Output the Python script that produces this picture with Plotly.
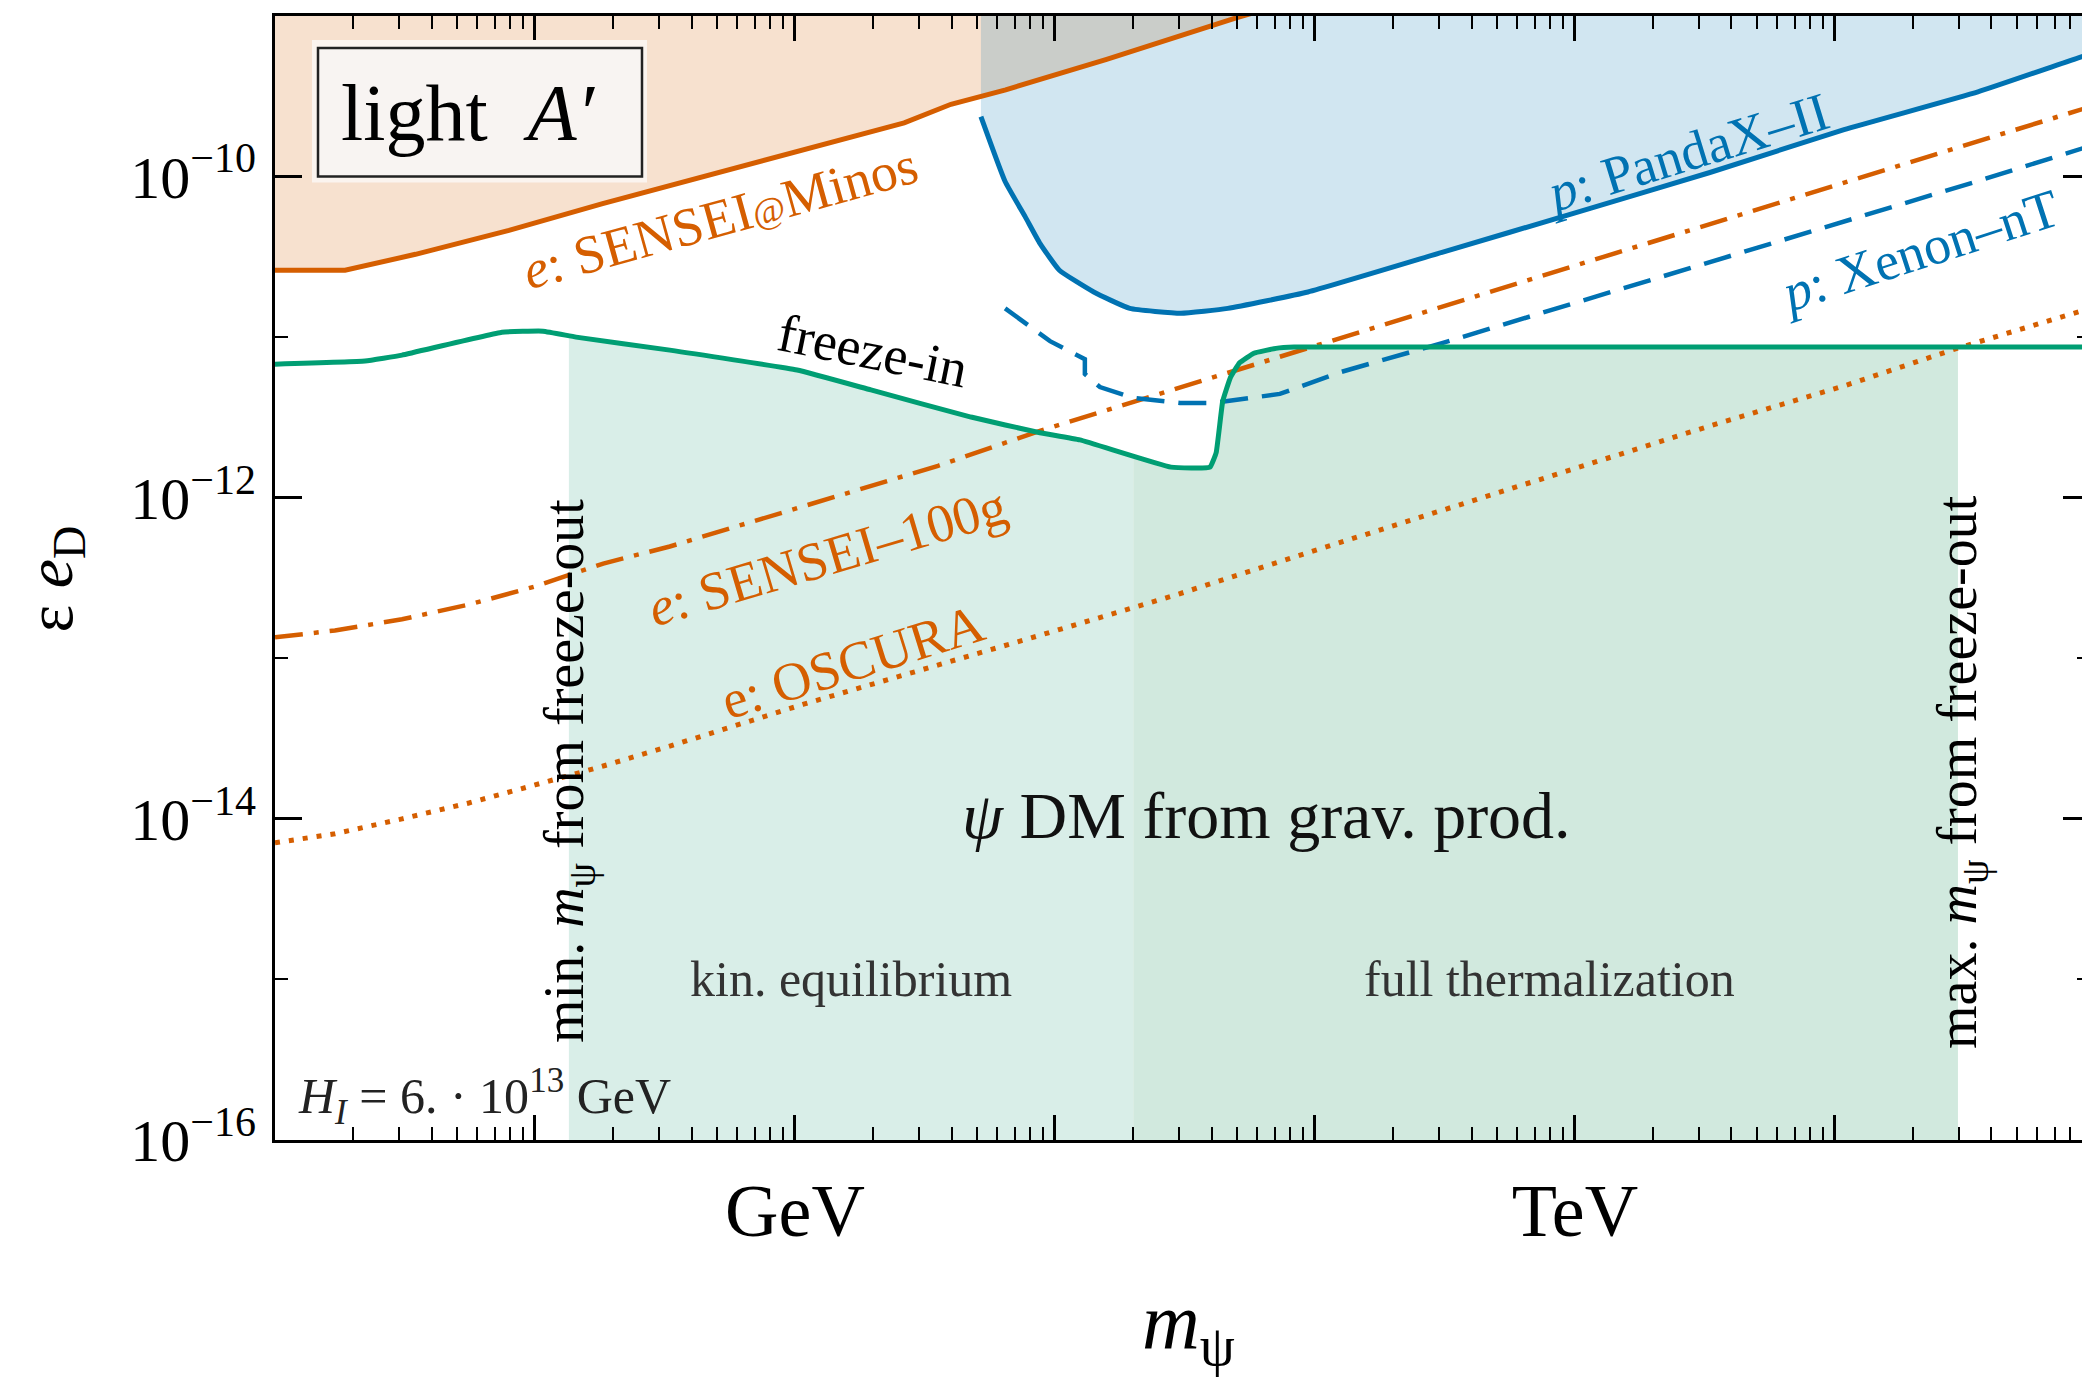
import numpy as np
import plotly.graph_objects as go

# ---------------- data (mass in GeV, coupling eps*e_D) ----------------
minos_m = [0.01, 0.0186, 0.0347, 0.0794, 0.182, 0.447, 1.08, 2.63, 3.98, 6.46, 15.8, 50.1, 100]
minos_eps = [2.61e-11, 2.61e-11, 3.28e-11, 4.62e-11, 6.79e-11, 1.0e-10, 1.47e-10, 2.16e-10,
             2.82e-10, 3.47e-10, 5.37e-10, 9.77e-10, 1.35e-9]

pandax_m = [5.19, 6.43, 7.67, 8.75, 10.4, 14.1, 19.4, 30.5, 46.2, 94.0, 308, 1009, 3304,
            10840, 35480, 95720, 125900]
pandax_eps = [2.36e-10, 9.31e-11, 5.65e-11, 3.84e-11, 2.61e-11, 1.91e-11, 1.51e-11, 1.41e-11,
              1.51e-11, 1.91e-11, 3.37e-11, 5.97e-11, 1.06e-10, 1.96e-10, 3.37e-10, 5.81e-10, 6.6e-10]

xenon_m = [6.43, 9.57, 13.03, 13.03, 14.89, 19.95, 30.27, 40.55, 73.28, 126, 308, 1009, 3304,
           10840, 35480, 95720]
xenon_eps = [1.51e-11, 9.44e-12, 7.29e-12, 5.89e-12, 4.89e-12, 4.18e-12, 3.89e-12, 3.89e-12,
             4.43e-12, 6.07e-12, 9.18e-12, 1.64e-11, 2.94e-11, 5.25e-11, 9.38e-11, 1.55e-10]

sensei100_m = [0.01, 0.0170, 0.0308, 0.0557, 0.1, 0.183, 0.330, 1.08, 3.55, 8.75, 28.7, 94.0,
               308, 1009, 3304, 10840, 35480, 95720]
sensei100_eps = [1.35e-13, 1.49e-13, 1.75e-13, 2.16e-13, 2.80e-13, 3.89e-13, 4.97e-13, 8.91e-13,
                 1.58e-12, 2.61e-12, 4.72e-12, 8.55e-12, 1.55e-11, 2.80e-11, 5.07e-11, 9.16e-11,
                 1.66e-10, 2.72e-10]

oscura_m = [0.01, 0.0170, 0.0308, 0.0557, 0.1, 0.183, 0.330, 1.08, 8.75, 28.7, 94.0, 308, 1009,
            3304, 10840, 29720, 95720]
oscura_eps = [7.10e-15, 8.07e-15, 1.0e-14, 1.256e-14, 1.626e-14, 2.133e-14, 2.838e-14, 5.176e-14,
              1.39e-13, 2.46e-13, 4.55e-13, 8.30e-13, 1.51e-12, 2.80e-12, 4.97e-12, 8.55e-12, 1.51e-11]

freezein_m = [0.01, 0.0222, 0.0308, 0.0746, 0.1074, 0.1439, 0.330, 1.019, 1.959, 4.753, 8.75,
              12.47, 27.93, 39.45, 41.69, 44.16, 47.32, 51.29, 58.21, 70.79, 83.18, 100000]
freezein_eps = [6.79e-12, 7.10e-12, 7.73e-12, 1.074e-11, 1.089e-11, 1.0e-11, 8.30e-12, 6.24e-12,
                4.69e-12, 3.18e-12, 2.54e-12, 2.29e-12, 1.55e-12, 1.55e-12, 1.91e-12, 3.98e-12,
                5.62e-12, 6.92e-12, 7.94e-12, 8.51e-12, 8.67e-12, 8.67e-12]

m_min_freezeout = 0.135     # GeV
m_kin_therm = 20.0          # GeV
m_max_freezeout = 29720.0   # GeV

x_tick_vals = [1e-2, 1e-1, 1, 10, 100, 1e3, 1e4, 1e5]
x_tick_text = ["", "", "GeV", "", "", "TeV", "", ""]
y_tick_vals = [1e-16, 1e-14, 1e-12, 1e-10]
y_tick_text = ["10<sup>−16</sup>", "10<sup>−14</sup>", "10<sup>−12</sup>", "10<sup>−10</sup>"]
y_minor_vals = [1e-15, 1e-13, 1e-11, 1e-9]

# ---------------- styling ----------------
ORANGE = "#D55E00"
BLUE = "#0072B2"
GREEN = "#009E73"
FONT = "Liberation Serif"
TOP = 2e-9
BOTTOM = 1e-17

x_minor = [k * 10.0 ** e for e in range(-2, 5) for k in range(2, 10)]

fig = go.Figure()

# orange excluded region (above SENSEI@Minos)
fig.add_trace(go.Scatter(x=minos_m + [minos_m[-1], minos_m[0]],
                         y=minos_eps + [TOP, TOP], fill="toself", mode="none",
                         fillcolor="rgba(213,94,0,0.19)", hoverinfo="skip"))
# blue excluded region (above PandaX-II)
fig.add_trace(go.Scatter(x=[pandax_m[0]] + pandax_m + [pandax_m[-1]],
                         y=[TOP] + pandax_eps + [TOP], fill="toself", mode="none",
                         fillcolor="rgba(0,114,178,0.18)", hoverinfo="skip"))


def green_region(a, b):
    lx = np.log10(freezein_m)
    ly = np.log10(freezein_eps)
    la, lb = np.log10(a), np.log10(b)
    inner = [(x, y) for x, y in zip(lx, ly) if la < x < lb]
    xs = [la] + [p[0] for p in inner] + [lb]
    ys = [np.interp(la, lx, ly)] + [p[1] for p in inner] + [np.interp(lb, lx, ly)]
    xs = list(10 ** np.array(xs)) + [b, a]
    ys = list(10 ** np.array(ys)) + [BOTTOM, BOTTOM]
    return xs, ys


gx1, gy1 = green_region(m_min_freezeout, m_kin_therm)
gx2, gy2 = green_region(m_kin_therm, m_max_freezeout)
fig.add_trace(go.Scatter(x=gx1, y=gy1, fill="toself", mode="none",
                         fillcolor="rgb(217,238,232)", hoverinfo="skip"))
fig.add_trace(go.Scatter(x=gx2, y=gy2, fill="toself", mode="none",
                         fillcolor="rgb(209,233,222)", hoverinfo="skip"))

# lines
fig.add_trace(go.Scatter(x=oscura_m, y=oscura_eps, mode="lines",
                         line=dict(color=ORANGE, width=5, dash="5px,9px")))
fig.add_trace(go.Scatter(x=sensei100_m, y=sensei100_eps, mode="lines",
                         line=dict(color=ORANGE, width=4.5, dash="28px,11px,5px,11px")))
fig.add_trace(go.Scatter(x=xenon_m, y=xenon_eps, mode="lines",
                         line=dict(color=BLUE, width=4.5, dash="28px,14px")))
fig.add_trace(go.Scatter(x=pandax_m, y=pandax_eps, mode="lines",
                         line=dict(color=BLUE, width=5, shape="spline", smoothing=0.4)))
fig.add_trace(go.Scatter(x=minos_m, y=minos_eps, mode="lines",
                         line=dict(color=ORANGE, width=5)))
fig.add_trace(go.Scatter(x=freezein_m, y=freezein_eps, mode="lines",
                         line=dict(color=GREEN, width=5, shape="spline", smoothing=0.3)))

# ---------------- axes ----------------
fig.update_xaxes(type="log", range=[-2, 4.981], showline=True, linecolor="black", linewidth=3,
                 mirror="ticks", ticks="inside", ticklen=25, tickwidth=2.5, tickcolor="black",
                 tickmode="array", tickvals=x_tick_vals, ticktext=x_tick_text,
                 tickfont=dict(size=74, family=FONT, color="black"),
                 minor=dict(tickmode="array", tickvals=x_minor, ticks="inside", ticklen=13,
                            tickwidth=2.2, tickcolor="black", showgrid=False),
                 showgrid=False, zeroline=False, ticklabelstandoff=4)
fig.update_yaxes(type="log", range=[-16, -9], showline=True, linecolor="black", linewidth=3,
                 mirror="ticks", ticks="inside", ticklen=27, tickwidth=2.5, tickcolor="black",
                 tickmode="array", tickvals=y_tick_vals, ticktext=y_tick_text,
                 tickfont=dict(size=60, family=FONT, color="black"),
                 minor=dict(tickmode="array", tickvals=y_minor_vals, ticks="inside", ticklen=13,
                            tickwidth=2.2, tickcolor="black", showgrid=False),
                 showgrid=False, zeroline=False, ticklabelstandoff=4)

# ---------------- annotations ----------------
# page-pixel geometry of the plot area (the page body adds an 8px offset)
W, H = 2090, 1377
OFF = 8
L, T, B, R = 275, 13, 1140, 2090
PW, PH = R - L, B - T


def px(X):
    return (X - L) / PW


def py(Y):
    return (B - Y) / PH


def note(X, Y, text, size, color="black", angle=0):
    fig.add_annotation(x=px(X), y=py(Y), xref="paper", yref="paper", text=text, showarrow=False,
                       textangle=angle, xanchor="center", yanchor="middle",
                       font=dict(family=FONT, size=size, color=color))


note(720, 216, "<i>e</i>: SENSEI<span style='font-size:36px'>@</span>Minos", 54, ORANGE, -15.5)
note(873, 349, "freeze-in", 54, "black", 11.5)
note(827, 555, "<i>e</i>: SENSEI–100g", 54, ORANGE, -16.5)
note(853, 661, "e: OSCURA", 54, ORANGE, -17.4)
note(1686, 150, "<i>p</i>: PandaX–II", 54, BLUE, -17)
note(1919, 249, "<i>p</i>: Xenon–nT", 54, BLUE, -18)
note(569, 770, "min. <i>m</i><sub>ψ</sub> from freeze-out", 56, "black", -90)
note(1962, 771, "max. <i>m</i><sub>ψ</sub> from freeze-out", 56, "black", -90)
note(1266, 815, "<i>ψ</i> DM from grav. prod.", 66, "#111111")
note(851, 979, "kin. equilibrium", 50, "#333333")
note(1549, 979, "full thermalization", 50, "#333333")
note(484, 1096, "<i>H</i><sub><i>I</i></sub> = 6. · 10<sup>13</sup> GeV", 50, "#222222")
note(468, 110, "light  <i>A′</i>", 80, "black")

# axis titles
note(1188, 1328, "<i>m</i><sub>ψ</sub>", 80, "black")
note(54, 578, "ε <i>e</i><sub>D</sub>", 66, "black", -90)

# "light A'" box
fig.add_shape(type="rect", xref="paper", yref="paper", x0=px(312), x1=px(647), y0=py(180), y1=py(37),
              fillcolor="#fbf4ef", line=dict(width=0), layer="above")
fig.add_shape(type="rect", xref="paper", yref="paper", x0=px(318), x1=px(642), y0=py(174), y1=py(45),
              fillcolor="#f8f4f2", line=dict(color="#222222", width=2.5), layer="above")

fig.update_layout(width=W, height=H,
                  margin=dict(l=L - OFF, r=W - R + OFF, t=T - OFF, b=H - B + OFF),
                  plot_bgcolor="white", paper_bgcolor="white", showlegend=False,
                  font=dict(family=FONT, color="black"))

fig.write_html("out.html", config={"displayModeBar": False})
